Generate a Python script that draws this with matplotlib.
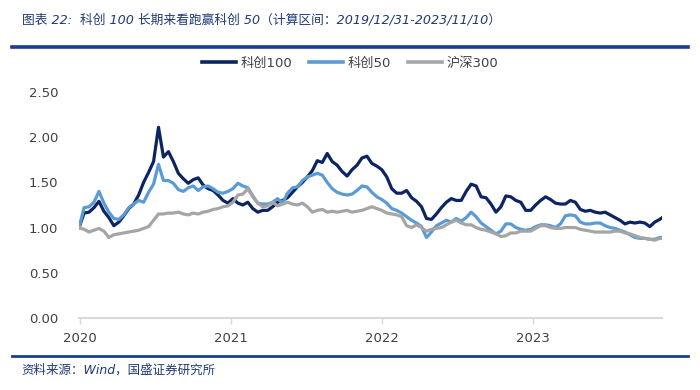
import pandas as pd
import numpy as np
import matplotlib.pyplot as plt
import matplotlib.dates as mdates
from matplotlib.lines import Line2D

plt.rcParams['font.family'] = ['DejaVu Sans', 'Noto Sans CJK SC']

# =========================
# 1. DATA (one point every 12 days)
# =========================
start_date = "2019-12-31"
end_date = "2023-11-10"

kc100 = [1.00, 1.16, 1.17, 1.22, 1.29, 1.18, 1.11, 1.02, 1.06, 1.13,
         1.21, 1.26, 1.36, 1.50, 1.61, 1.73, 2.11, 1.78, 1.84, 1.73,
         1.60, 1.54, 1.49, 1.53, 1.55, 1.47, 1.43, 1.41, 1.36, 1.30,
         1.27, 1.32, 1.27, 1.25, 1.28, 1.21, 1.17, 1.19, 1.19, 1.23,
         1.28, 1.30, 1.33, 1.39, 1.45, 1.50, 1.56, 1.63, 1.74, 1.72,
         1.82, 1.73, 1.69, 1.62, 1.57, 1.64, 1.69, 1.77, 1.79, 1.71,
         1.68, 1.64, 1.56, 1.43, 1.38, 1.38, 1.41, 1.33, 1.29, 1.23,
         1.10, 1.09, 1.15, 1.22, 1.28, 1.32, 1.30, 1.30, 1.40, 1.48,
         1.46, 1.34, 1.33, 1.26, 1.17, 1.23, 1.35, 1.34, 1.30, 1.28,
         1.19, 1.19, 1.25, 1.30, 1.34, 1.31, 1.27, 1.26, 1.26, 1.30,
         1.28, 1.20, 1.18, 1.19, 1.17, 1.16, 1.17, 1.14, 1.11, 1.08,
         1.04, 1.06, 1.05, 1.06, 1.05, 1.01, 1.06, 1.09, 1.11]

kc50 = [1.00, 1.22, 1.23, 1.28, 1.40, 1.27, 1.17, 1.10, 1.09, 1.14,
        1.22, 1.26, 1.30, 1.28, 1.39, 1.48, 1.70, 1.52, 1.52, 1.49,
        1.42, 1.40, 1.44, 1.46, 1.41, 1.45, 1.46, 1.43, 1.39, 1.38,
        1.40, 1.43, 1.49, 1.46, 1.44, 1.35, 1.27, 1.26, 1.26, 1.28,
        1.32, 1.27, 1.38, 1.44, 1.45, 1.52, 1.56, 1.58, 1.60, 1.58,
        1.50, 1.43, 1.39, 1.37, 1.36, 1.37, 1.41, 1.46, 1.45, 1.39,
        1.34, 1.31, 1.27, 1.21, 1.19, 1.16, 1.12, 1.08, 1.05, 1.01,
        0.89, 0.95, 1.02, 1.05, 1.08, 1.06, 1.10, 1.07, 1.11, 1.17,
        1.12, 1.05, 1.01, 0.97, 0.93, 0.96, 1.04, 1.04, 1.00, 0.98,
        0.97, 0.98, 1.01, 1.03, 1.03, 1.02, 1.00, 1.04, 1.13, 1.14,
        1.13, 1.06, 1.04, 1.04, 1.05, 1.05, 1.02, 1.00, 0.99, 0.97,
        0.95, 0.92, 0.89, 0.88, 0.88, 0.87, 0.87, 0.89, 0.89]

hs300 = [1.00, 0.98, 0.95, 0.97, 0.99, 0.96, 0.89, 0.92, 0.93, 0.94,
         0.95, 0.96, 0.97, 0.99, 1.01, 1.08, 1.15, 1.15, 1.16, 1.16,
         1.17, 1.15, 1.14, 1.16, 1.15, 1.17, 1.18, 1.20, 1.21, 1.23,
         1.24, 1.28, 1.36, 1.37, 1.43, 1.34, 1.27, 1.23, 1.24, 1.28,
         1.24, 1.26, 1.28, 1.26, 1.25, 1.27, 1.23, 1.17, 1.19, 1.20,
         1.17, 1.18, 1.17, 1.18, 1.19, 1.17, 1.18, 1.19, 1.21, 1.23,
         1.21, 1.19, 1.16, 1.15, 1.14, 1.12, 1.02, 1.00, 1.03, 1.00,
         0.96, 0.98, 0.99, 1.00, 1.03, 1.06, 1.08, 1.05, 1.03, 1.03,
         1.00, 0.98, 0.97, 0.95, 0.93, 0.90, 0.91, 0.94, 0.94, 0.96,
         0.96, 0.96, 0.99, 1.02, 1.02, 1.00, 0.99, 0.99, 1.00, 1.00,
         1.00, 0.98, 0.97, 0.96, 0.95, 0.95, 0.95, 0.95, 0.96, 0.96,
         0.94, 0.93, 0.91, 0.89, 0.88, 0.87, 0.86, 0.88, 0.88]

series_names = ["科创100", "科创50", "沪深300"]
series_colors = ["#0C2461", "#5B9BD5", "#A5A5A5"]

year_ticks = ["2020-01-01", "2021-01-01", "2022-01-01", "2023-01-01"]
year_labels = ["2020", "2021", "2022", "2023"]
y_ticks = [0.0, 0.5, 1.0, 1.5, 2.0, 2.5]

title_text = "图表 22:  科创 100 长期来看跑赢科创 50（计算区间：2019/12/31-2023/11/10）"
source_text = "资料来源：Wind，国盛证券研究所"

dates = list(pd.date_range(start_date, periods=len(kc100) - 1, freq="12D"))
dates.append(pd.Timestamp(end_date))


# =========================
# 2. PLOT
# =========================
fig = plt.figure(figsize=(7, 3.9), dpi=100)
ax = fig.add_axes([0.113, 0.185, 0.833, 0.579])

for vals, name, col in zip([kc100, kc50, hs300], series_names, series_colors):
    ax.plot(dates, vals, color=col, linewidth=2.3, label=name,
            solid_joinstyle="round")

ax.set_ylim(0, 2.5)
ax.set_xlim(pd.Timestamp(start_date), pd.Timestamp(end_date))
ax.set_yticks(y_ticks)
ax.set_yticklabels([f"{v:.2f}" for v in y_ticks])
ax.set_xticks([pd.Timestamp(d) for d in year_ticks])
ax.set_xticklabels(year_labels)

for side in ["left", "right", "top"]:
    ax.spines[side].set_visible(False)
ax.spines["bottom"].set_color("#D9D9D9")
ax.spines["bottom"].set_linewidth(1.5)

ax.tick_params(axis="y", length=0, pad=15, labelsize=9.5, labelcolor="#404040")
ax.tick_params(axis="x", length=4, width=1, color="#D9D9D9", pad=6,
               labelsize=9.5, labelcolor="#404040")

handles = [Line2D([0], [0], color=c, linewidth=2.6) for c in series_colors]
fig.legend(handles, series_names, loc="center", bbox_to_anchor=(0.5, 0.838),
           ncol=3, frameon=False, fontsize=9.5, handlelength=2.6,
           handletextpad=0.3, columnspacing=1.3, labelcolor="#404040")

# header / footer
fig.text(0.031, 0.948, title_text, fontsize=9.2, color="#1F3A78",
         style="italic", va="center", ha="left")
fig.add_artist(Line2D([0.017, 0.983], [0.879, 0.879], color="#1A3D8F",
                      linewidth=2.6))
fig.add_artist(Line2D([0.017, 0.983], [0.087, 0.087], color="#1A3D8F",
                      linewidth=2))
fig.text(0.031, 0.052, source_text, fontsize=9, color="#1F3A78",
         style="italic", va="center", ha="left")

fig.savefig("out.png", dpi=100, facecolor="white")
